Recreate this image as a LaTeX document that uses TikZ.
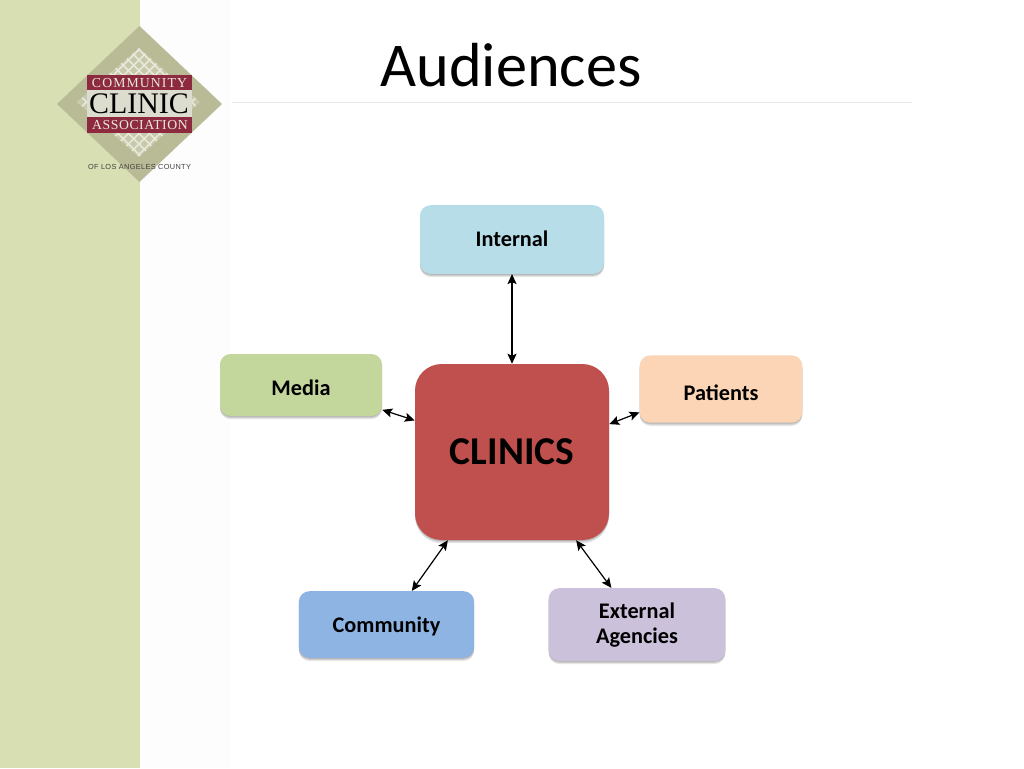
\documentclass[tikz,border=0pt]{standalone}
\usepackage{fontspec}
\setmainfont{Carlito}
\newfontfamily\logoserif{Liberation Serif}
\newfontfamily\logoserifA[LetterSpace=8]{Liberation Serif}
\newfontfamily\logoserifB[LetterSpace=4]{Liberation Serif}
\newfontfamily\logosans[LetterSpace=5]{Liberation Sans}
\usetikzlibrary{arrows.meta,shadows,calc}
\newcommand{\nudged}[2]{\raisebox{#1}[\height][\depth]{#2}}
\definecolor{sidebar}{HTML}{D8DFB2}
\definecolor{diamondc}{HTML}{B9BB96}
\definecolor{latticec}{HTML}{E9E9DA}
\definecolor{logored}{HTML}{8E2A40}
\definecolor{bandc}{HTML}{DCDCCF}
\definecolor{cInternal}{HTML}{B7DDE8}
\definecolor{cMedia}{HTML}{C3D69B}
\definecolor{cPatients}{HTML}{FBD5B5}
\definecolor{cCommunity}{HTML}{8EB4E3}
\definecolor{cExternal}{HTML}{CCC1DA}
\definecolor{cClinics}{HTML}{C0504D}
\tikzset{
  softshadow/.style={
    general shadow={fill=black,opacity=.10,shadow xshift=0pt,shadow yshift=-.7pt},
    general shadow={fill=black,opacity=.10,shadow xshift=0pt,shadow yshift=-1.5pt},
    general shadow={fill=black,opacity=.10,shadow xshift=0pt,shadow yshift=-2.4pt}},
  audience/.style={softshadow,rounded corners=8pt,inner sep=0pt,align=center,
    font=\fontsize{16.7}{18.8}\selectfont\bfseries,text=black},
  hub/.style={softshadow,rounded corners=20pt,inner sep=0pt,align=center,
    font=\fontsize{29.6}{34}\selectfont\bfseries,text=black},
  link/.style={draw=black,line width=.9pt,{Stealth[length=7.5pt,width=6.8pt,inset=1.5pt]}-{Stealth[length=7.5pt,width=6.8pt,inset=1.5pt]}}
}
\begin{document}
\begin{tikzpicture}[x=.75pt,y=-.75pt]
\useasboundingbox (0,0) rectangle (1024,768);
\fill[white] (0,0) rectangle (1024,768);
\fill[black!.8] (140,0) rectangle (230,768);
\fill[sidebar] (0,0) rectangle (140,768);
% logo
\fill[diamondc] (139.5,26) -- (222,104) -- (139.5,182) -- (57,104) -- cycle;
\begin{scope}
\clip (139,48) -- (200,102) -- (139,157) -- (77,102) -- cycle;
\fill[diamondc!70!latticec] (77,48) rectangle (200,157);
\foreach \k in {-12,...,12}{
  \draw[latticec,line width=1.2pt] ($(139,102)+(\k*10.5,0)+(-70,-70)$) -- ($(139,102)+(\k*10.5,0)+(70,70)$);
  \draw[latticec,line width=1.2pt] ($(139,102)+(\k*10.5,0)+(-70,70)$) -- ($(139,102)+(\k*10.5,0)+(70,-70)$);
}
\end{scope}
\fill[bandc] (87,90) rectangle (192,117);
\fill[logored] (87,75) rectangle (192,90);
\fill[logored] (87,117) rectangle (192,133);
\node[text=latticec,inner sep=0pt,font=\logoserifA\fontsize{10.3}{11}\selectfont] (logoa) at (139.5,83) {COMMUNITY};
\node[text=black,inner sep=0pt,font=\logoserif\fontsize{22.4}{22}\selectfont] (logob) at (139,104) {CLINIC};
\node[text=latticec,inner sep=0pt,font=\logoserifB\fontsize{10.3}{11}\selectfont] (logoc) at (140,125) {ASSOCIATION};
\node[text=black!75,inner sep=0pt,font=\logosans\fontsize{5.5}{6}\selectfont] (logod) at (139.5,166.5) {OF LOS ANGELES COUNTY};
% title
\node[inner sep=0pt,font=\fontsize{46.7}{52}\selectfont,text=black] (title) at (511,65) {Audiences};
\coordinate (ruleL) at (232,102);
\coordinate (ruleR) at (912,102);
\draw[black!9,line width=.6pt] (ruleL) -- (ruleR);
% nodes
\node[hub,fill=cClinics,minimum width=145.5pt,minimum height=132pt] (clinics) at (512,452) {CLINICS};
\node[audience,fill=cInternal,minimum width=138pt,minimum height=51.5pt] (internal) at (512,239.5) {\nudged{.7pt}{Internal}};
\node[audience,fill=cMedia,minimum width=121.5pt,minimum height=46.5pt] (media) at (301,385) {\nudged{-1.7pt}{Media}};
\node[audience,fill=cPatients,minimum width=122pt,minimum height=50.5pt] (patients) at (721,389) {\nudged{-3pt}{Patients}};
\node[audience,fill=cCommunity,minimum width=131.5pt,minimum height=50pt] (community) at (386.5,624.5) {\nudged{-1.2pt}{Community}};
\node[audience,fill=cExternal,minimum width=132.5pt,minimum height=54.5pt] (external) at (637,624.5) {\nudged{-.7pt}{External}\\\nudged{-.7pt}{Agencies}};
% connectors
\draw[link] (internal.south) -- (clinics.north);
\draw[link] (media.-17.2) -- (clinics.162.4);
\draw[link] (patients.196.5) -- (clinics.16.1);
\draw[link] (community.53.7) -- (clinics.234);
\draw[link] (external.125) -- (clinics.-54);
\end{tikzpicture}
\end{document}
